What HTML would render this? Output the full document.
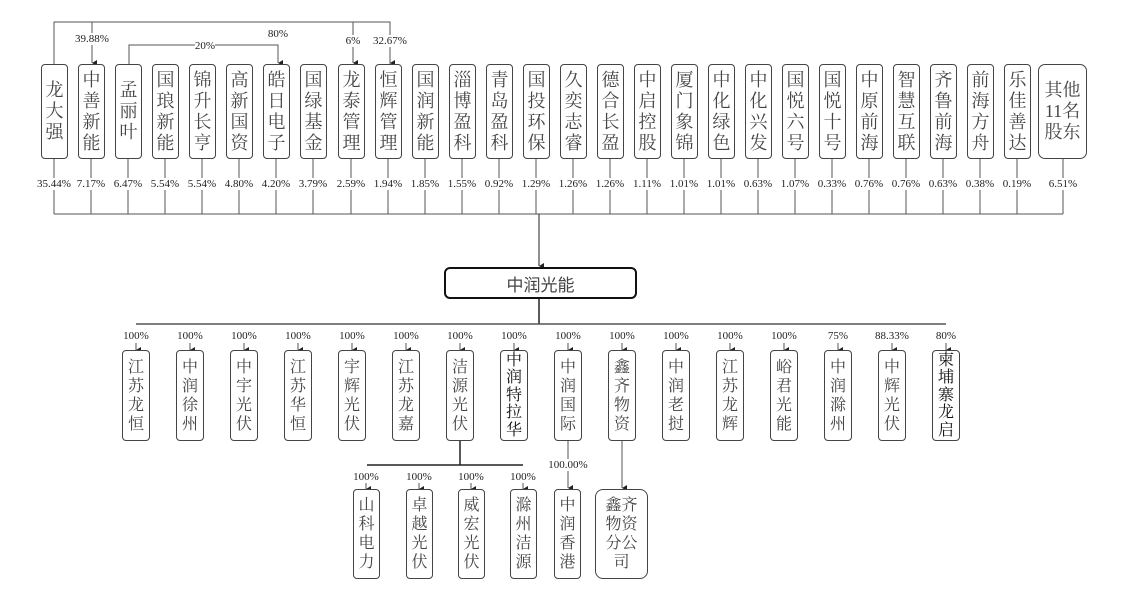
<!DOCTYPE html>
<html><head><meta charset="utf-8"><style>
body{margin:0;background:#fff;width:1129px;height:601px;overflow:hidden;position:relative;font-family:"Liberation Serif","Noto Serif CJK SC",serif;color:#444}
.b{position:absolute;border:1px solid #444;border-radius:4px;display:flex;align-items:center;justify-content:center;text-align:center;background:#fff;box-sizing:border-box}
.b span{display:block;word-break:break-all}
.t span{width:18px;font-size:18px;line-height:21px}
.s span{width:16px;font-size:16px;line-height:19px}
.p{position:absolute;font-size:11px;transform:translateX(-50%);white-space:nowrap;line-height:12px;background:#fff;color:#222}
svg{position:absolute;left:0;top:0}
</style></head><body>
<svg width="1129" height="601" stroke="#555" stroke-width="1" fill="none">
<defs><marker id="a" markerWidth="6" markerHeight="6" refX="3" refY="5" orient="auto" markerUnits="userSpaceOnUse"><path d="M0,0 L6,0 L3,5z" fill="#222" stroke="none"/></marker></defs>
<path d="M54,64 V22 H390 V64"/>
<path d="M92,22 V33 M92,45 V63" marker-end="url(#a)"/>
<path d="M353,22 V35 M353,47 V63" marker-end="url(#a)"/>
<path d="M390,47 V63" marker-end="url(#a)"/>
<path d="M129,64 V45 H195 M215,45 H278 V63" marker-end="url(#a)"/>
<path d="M54,214 H1063"/>
<path d="M539,214 V266" stroke="#222" marker-end="url(#a)"/>
<path d="M539,299 V324" stroke="#222" stroke-width="1.5"/>
<path d="M136,324 H946" stroke-width="1.5"/>
<path d="M460,441 V465 M367,465 H523" stroke="#222" stroke-width="1.5"/>
<path d="M568,441 V459 M568,471 V488" marker-end="url(#a)"/>
<path d="M622,441 V488" marker-end="url(#a)"/>
</svg>
<div class="b" style="left:444px;top:267px;width:193px;height:32px;border:2.5px solid #111;border-radius:6px;font-family:'Liberation Sans','Noto Sans CJK SC',sans-serif;font-size:17px;color:#444">中润光能</div>

<div class="p" style="left:92px;top:33px">39.88%</div>
<div class="p" style="left:205px;top:40px">20%</div>
<div class="p" style="left:278px;top:28px">80%</div>
<div class="p" style="left:353px;top:35px">6%</div>
<div class="p" style="left:390px;top:35px">32.67%</div>

<svg width="1129" height="601" stroke="#555" stroke-width="1" fill="none">
<g>
<path d="M54,159V178M54,190V214 M91,159V178M91,190V214 M128,159V178M128,190V214 M165,159V178M165,190V214 M202,159V178M202,190V214 M239,159V178M239,190V214 M276,159V178M276,190V214 M313,159V178M313,190V214 M351,159V178M351,190V214 M388,159V178M388,190V214 M425,159V178M425,190V214 M462,159V178M462,190V214 M499,159V178M499,190V214 M536,159V178M536,190V214 M573,159V178M573,190V214 M610,159V178M610,190V214 M647,159V178M647,190V214 M684,159V178M684,190V214 M721,159V178M721,190V214 M758,159V178M758,190V214 M795,159V178M795,190V214 M832,159V178M832,190V214 M869,159V178M869,190V214 M906,159V178M906,190V214 M943,159V178M943,190V214 M980,159V178M980,190V214 M1017,159V178M1017,190V214 M1063,159V178M1063,190V214"/>
</g>
<g marker-end="url(#a)">
<path d="M136,343V350"/><path d="M190,343V350"/><path d="M244,343V350"/><path d="M298,343V350"/><path d="M352,343V350"/><path d="M406,343V350"/><path d="M460,343V350"/><path d="M514,343V350"/><path d="M568,343V350"/><path d="M622,343V350"/><path d="M676,343V350"/><path d="M730,343V350"/><path d="M784,343V350"/><path d="M838,343V350"/><path d="M892,343V350"/><path d="M946,343V350"/>
<path d="M366,483V489"/><path d="M419,483V489"/><path d="M471,483V489"/><path d="M523,483V489"/>
</g>
</svg>

<div class="b t" style="left:41px;top:64px;width:27px;height:95px"><span>龙大强</span></div>
<div class="b t" style="left:78px;top:64px;width:27px;height:95px"><span>中善新能</span></div>
<div class="b t" style="left:115px;top:64px;width:27px;height:95px"><span>孟丽叶</span></div>
<div class="b t" style="left:152px;top:64px;width:27px;height:95px"><span>国琅新能</span></div>
<div class="b t" style="left:189px;top:64px;width:27px;height:95px"><span>锦升长亨</span></div>
<div class="b t" style="left:226px;top:64px;width:27px;height:95px"><span>高新国资</span></div>
<div class="b t" style="left:263px;top:64px;width:27px;height:95px"><span>皓日电子</span></div>
<div class="b t" style="left:300px;top:64px;width:27px;height:95px"><span>国绿基金</span></div>
<div class="b t" style="left:338px;top:64px;width:27px;height:95px"><span>龙泰管理</span></div>
<div class="b t" style="left:375px;top:64px;width:27px;height:95px"><span>恒辉管理</span></div>
<div class="b t" style="left:412px;top:64px;width:27px;height:95px"><span>国润新能</span></div>
<div class="b t" style="left:449px;top:64px;width:27px;height:95px"><span>淄博盈科</span></div>
<div class="b t" style="left:486px;top:64px;width:27px;height:95px"><span>青岛盈科</span></div>
<div class="b t" style="left:523px;top:64px;width:27px;height:95px"><span>国投环保</span></div>
<div class="b t" style="left:560px;top:64px;width:27px;height:95px"><span>久奕志睿</span></div>
<div class="b t" style="left:597px;top:64px;width:27px;height:95px"><span>德合长盈</span></div>
<div class="b t" style="left:634px;top:64px;width:27px;height:95px"><span>中启控股</span></div>
<div class="b t" style="left:671px;top:64px;width:27px;height:95px"><span>厦门象锦</span></div>
<div class="b t" style="left:708px;top:64px;width:27px;height:95px"><span>中化绿色</span></div>
<div class="b t" style="left:745px;top:64px;width:27px;height:95px"><span>中化兴发</span></div>
<div class="b t" style="left:782px;top:64px;width:27px;height:95px"><span>国悦六号</span></div>
<div class="b t" style="left:819px;top:64px;width:27px;height:95px"><span>国悦十号</span></div>
<div class="b t" style="left:856px;top:64px;width:27px;height:95px"><span>中原前海</span></div>
<div class="b t" style="left:893px;top:64px;width:27px;height:95px"><span>智慧互联</span></div>
<div class="b t" style="left:930px;top:64px;width:27px;height:95px"><span>齐鲁前海</span></div>
<div class="b t" style="left:967px;top:64px;width:27px;height:95px"><span>前海方舟</span></div>
<div class="b t" style="left:1004px;top:64px;width:27px;height:95px"><span>乐佳善达</span></div>
<div class="b t" style="left:1038px;top:64px;width:49px;height:95px;border-radius:7px"><span style="width:40px">其他<br>11名<br>股东</span></div>

<div class="p" style="left:54px;top:178px">35.44%</div>
<div class="p" style="left:91px;top:178px">7.17%</div>
<div class="p" style="left:128px;top:178px">6.47%</div>
<div class="p" style="left:165px;top:178px">5.54%</div>
<div class="p" style="left:202px;top:178px">5.54%</div>
<div class="p" style="left:239px;top:178px">4.80%</div>
<div class="p" style="left:276px;top:178px">4.20%</div>
<div class="p" style="left:313px;top:178px">3.79%</div>
<div class="p" style="left:351px;top:178px">2.59%</div>
<div class="p" style="left:388px;top:178px">1.94%</div>
<div class="p" style="left:425px;top:178px">1.85%</div>
<div class="p" style="left:462px;top:178px">1.55%</div>
<div class="p" style="left:499px;top:178px">0.92%</div>
<div class="p" style="left:536px;top:178px">1.29%</div>
<div class="p" style="left:573px;top:178px">1.26%</div>
<div class="p" style="left:610px;top:178px">1.26%</div>
<div class="p" style="left:647px;top:178px">1.11%</div>
<div class="p" style="left:684px;top:178px">1.01%</div>
<div class="p" style="left:721px;top:178px">1.01%</div>
<div class="p" style="left:758px;top:178px">0.63%</div>
<div class="p" style="left:795px;top:178px">1.07%</div>
<div class="p" style="left:832px;top:178px">0.33%</div>
<div class="p" style="left:869px;top:178px">0.76%</div>
<div class="p" style="left:906px;top:178px">0.76%</div>
<div class="p" style="left:943px;top:178px">0.63%</div>
<div class="p" style="left:980px;top:178px">0.38%</div>
<div class="p" style="left:1017px;top:178px">0.19%</div>
<div class="p" style="left:1063px;top:178px">6.51%</div>

<div class="p" style="left:136px;top:330px">100%</div>
<div class="p" style="left:190px;top:330px">100%</div>
<div class="p" style="left:244px;top:330px">100%</div>
<div class="p" style="left:298px;top:330px">100%</div>
<div class="p" style="left:352px;top:330px">100%</div>
<div class="p" style="left:406px;top:330px">100%</div>
<div class="p" style="left:460px;top:330px">100%</div>
<div class="p" style="left:514px;top:330px">100%</div>
<div class="p" style="left:568px;top:330px">100%</div>
<div class="p" style="left:622px;top:330px">100%</div>
<div class="p" style="left:676px;top:330px">100%</div>
<div class="p" style="left:730px;top:330px">100%</div>
<div class="p" style="left:784px;top:330px">100%</div>
<div class="p" style="left:838px;top:330px">75%</div>
<div class="p" style="left:892px;top:330px">88.33%</div>
<div class="p" style="left:946px;top:330px">80%</div>

<div class="b s" style="left:122px;top:350px;width:28px;height:91px"><span>江苏龙恒</span></div>
<div class="b s" style="left:176px;top:350px;width:28px;height:91px"><span>中润徐州</span></div>
<div class="b s" style="left:230px;top:350px;width:28px;height:91px"><span>中宇光伏</span></div>
<div class="b s" style="left:284px;top:350px;width:28px;height:91px"><span>江苏华恒</span></div>
<div class="b s" style="left:338px;top:350px;width:28px;height:91px"><span>宇辉光伏</span></div>
<div class="b s" style="left:392px;top:350px;width:28px;height:91px"><span>江苏龙嘉</span></div>
<div class="b s" style="left:446px;top:350px;width:28px;height:91px"><span>洁源光伏</span></div>
<div class="b s" style="left:500px;top:350px;width:28px;height:91px"><span style="line-height:17.5px;color:#111">中润特拉华</span></div>
<div class="b s" style="left:554px;top:350px;width:28px;height:91px"><span>中润国际</span></div>
<div class="b s" style="left:608px;top:350px;width:28px;height:91px"><span>鑫齐物资</span></div>
<div class="b s" style="left:662px;top:350px;width:28px;height:91px"><span>中润老挝</span></div>
<div class="b s" style="left:716px;top:350px;width:28px;height:91px"><span>江苏龙辉</span></div>
<div class="b s" style="left:770px;top:350px;width:28px;height:91px"><span>峪君光能</span></div>
<div class="b s" style="left:824px;top:350px;width:28px;height:91px"><span>中润滁州</span></div>
<div class="b s" style="left:878px;top:350px;width:28px;height:91px"><span>中辉光伏</span></div>
<div class="b s" style="left:932px;top:350px;width:28px;height:91px"><span style="line-height:17.5px;color:#111">柬埔寨龙启</span></div>

<div class="p" style="left:366px;top:471px">100%</div>
<div class="p" style="left:419px;top:471px">100%</div>
<div class="p" style="left:471px;top:471px">100%</div>
<div class="p" style="left:523px;top:471px">100%</div>
<div class="p" style="left:568px;top:459px">100.00%</div>

<div class="b s" style="left:353px;top:489px;width:27px;height:90px"><span>山科电力</span></div>
<div class="b s" style="left:406px;top:489px;width:27px;height:90px"><span>卓越光伏</span></div>
<div class="b s" style="left:458px;top:489px;width:27px;height:90px"><span>威宏光伏</span></div>
<div class="b s" style="left:510px;top:489px;width:27px;height:90px"><span>滁州洁源</span></div>
<div class="b s" style="left:554px;top:489px;width:27px;height:90px"><span>中润香港</span></div>
<div class="b s" style="left:595px;top:489px;width:53px;height:90px;border-radius:8px"><span style="width:34px">鑫齐物资分公司</span></div>
</body></html>
